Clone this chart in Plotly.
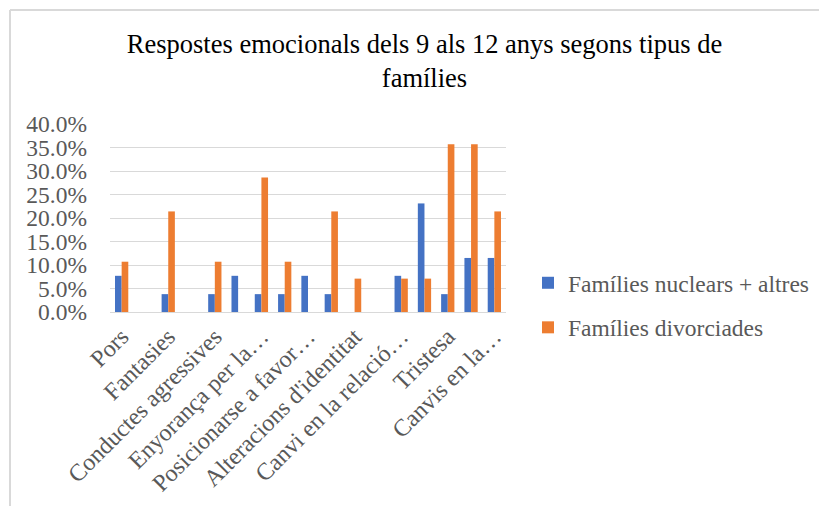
import plotly.graph_objects as go

categories = [
    "Pors", "Ansietat", "Fantasies", "Culpabilitat", "Conductes agressives",
    "Regressions", "Enyorança per la…", "Problemes escolars", "Posicionarse a favor…",
    "Aïllament", "Alteracions d'identitat", "Negació", "Canvi en la relació…",
    "Somatitzacions", "Tristesa", "Ràbia", "Canvis en la…",
]
shown_labels = [
    "Pors", "Fantasies", "Conductes agressives", "Enyorança per la…",
    "Posicionarse a favor…", "Alteracions d'identitat", "Canvi en la relació…",
    "Tristesa", "Canvis en la…",
]
nuclears = [0.077, 0.0, 0.038, 0.0, 0.038, 0.077, 0.038, 0.038, 0.077,
            0.038, 0.0, 0.0, 0.077, 0.231, 0.038, 0.115, 0.115]
divorciades = [0.107, 0.0, 0.214, 0.0, 0.107, 0.0, 0.286, 0.107, 0.0,
               0.214, 0.071, 0.0, 0.071, 0.071, 0.357, 0.357, 0.214]
y_ticks = [0.0, 0.05, 0.10, 0.15, 0.20, 0.25, 0.30, 0.35, 0.40]

OFF = 8  # page body margin
W, H = 827 - OFF, 506 - OFF
L, T = 110 - OFF, 124 - OFF
R = W - (506 - OFF)
B = H - (312 - OFF)
pw, ph = W - L - R, H - T - B

def px_x(p):
    return (p - OFF - L) / pw

def px_y(p):
    return (H - B - (p - OFF)) / ph

SERIF = "Liberation Serif"
GREY = "#595959"

fig = go.Figure()
fig.add_trace(go.Bar(x=categories, y=nuclears, name="Famílies nuclears + altres",
                     marker=dict(color="#4472C4", line=dict(width=0)),
                     legendgroup="a"))
fig.add_trace(go.Bar(x=categories, y=divorciades, name="Famílies divorciades",
                     marker=dict(color="#ED7D31", line=dict(width=0)),
                     legendgroup="b"))

fig.update_layout(
    width=W, height=H,
    margin=dict(l=L, r=R, t=T, b=B, autoexpand=False),
    paper_bgcolor="white", plot_bgcolor="white",
    barmode="group", bargap=0.43, bargroupgap=0.0,
    title=dict(text="Respostes emocionals dels 9 als 12 anys segons tipus de<br>famílies",
               x=(424.5 - OFF) / W, xanchor="center", y=1 - (53 - OFF) / H, yanchor="top",
               font=dict(family=SERIF, size=26.5, color="#000000")),
    font=dict(family=SERIF, size=23.5, color=GREY),
    legend=dict(x=px_x(528), xanchor="left", y=px_y(261), yanchor="top",
                font=dict(family=SERIF, size=23.5, color=GREY),
                tracegroupgap=11, traceorder="grouped",
                bgcolor="rgba(0,0,0,0)"),
    showlegend=True,
)
fig.update_xaxes(
    type="category", tickmode="array", tickvals=shown_labels, ticktext=shown_labels,
    tickangle=-45, showgrid=False, showline=True, linecolor="#D9D9D9", linewidth=1,
    ticks="", tickfont=dict(family=SERIF, size=24, color=GREY),
)
fig.update_yaxes(
    range=[0, 0.4], tickmode="array", tickvals=y_ticks, tickformat=".1%",
    showgrid=True, gridcolor="#D9D9D9", gridwidth=1, zeroline=False,
    showline=False, ticks="", ticklabelstandoff=22,
    tickfont=dict(family=SERIF, size=23.5, color=GREY),
)

border = dict(color="#D9D9D9", width=2)
fig.add_shape(type="line", xref="paper", yref="paper",
              x0=px_x(10), x1=px_x(900), y0=px_y(10), y1=px_y(10), line=border)
fig.add_shape(type="line", xref="paper", yref="paper",
              x0=px_x(10), x1=px_x(10), y0=px_y(10), y1=px_y(600), line=border)

fig.write_html("out.html")
